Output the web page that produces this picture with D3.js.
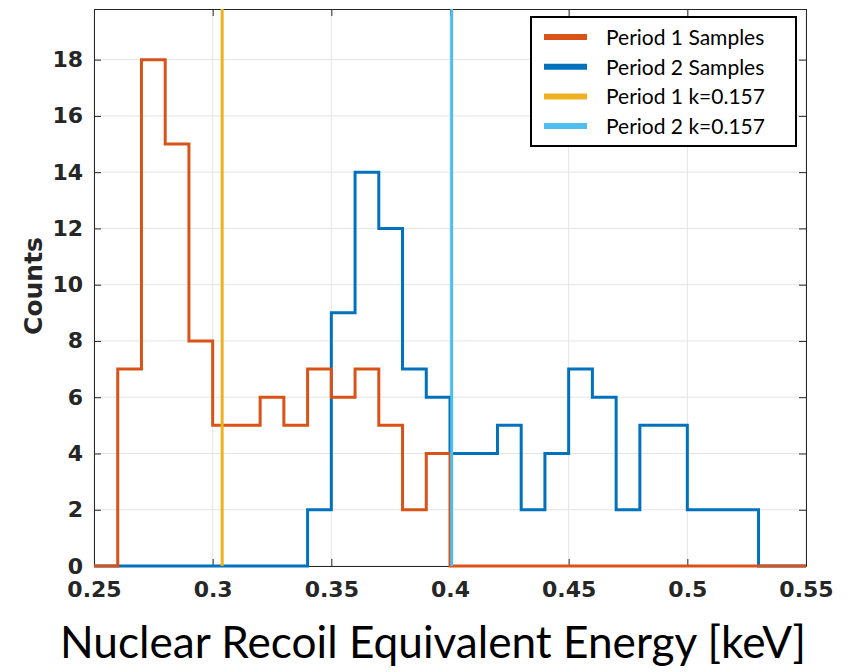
<!DOCTYPE html>
<html>
<head>
<meta charset="utf-8">
<script src="https://cdn.jsdelivr.net/npm/d3@7"></script>
<style>
  body { margin: 0; background: #fff; }
  svg { display: block; }
</style>
</head>
<body>
<div id="chart"></div>
<script>
// bin edges 0.25 .. 0.55, width 0.01
const binStart = 0.25;
const binWidth = 0.01;
const period1Counts = [0, 7, 18, 15, 8, 5, 5, 6, 5, 7, 6, 7, 5, 2, 4, 0, 0, 0, 0, 0, 0, 0, 0, 0, 0, 0, 0, 0, 0, 0];
const period2Counts = [0, 0, 0, 0, 0, 0, 0, 0, 0, 2, 9, 14, 12, 7, 6, 4, 4, 5, 2, 4, 7, 6, 2, 5, 5, 2, 2, 2, 0, 0];
const kLines = [
    {label: 'Period 1 k=0.157', value: 0.304, color: '#EDB120'},
    {label: 'Period 2 k=0.157', value: 0.4007, color: '#4DBEEE'}
];
const seriesNames = ['Period 1 Samples', 'Period 2 Samples'];
const seriesColors = ['#D95319', '#0072BD'];
const xTicks = [0.25, 0.3, 0.35, 0.4, 0.45, 0.5, 0.55];
const yTicks = [0, 2, 4, 6, 8, 10, 12, 14, 16, 18];

const W = 848, H = 672;
const margin = {top: 9, right: 42, bottom: 106, left: 94};
const width = W - margin.left - margin.right;
const height = H - margin.top - margin.bottom;

const svg = d3.select('#chart').append('svg')
    .attr('width', W)
    .attr('height', H);

const x = d3.scaleLinear().domain([0.25, 0.55]).range([margin.left, margin.left + width]);
const y = d3.scaleLinear().domain([0, 19.8]).range([margin.top + height, margin.top]);

// grid
svg.append('g')
    .selectAll('line.gx')
    .data(xTicks)
    .enter().append('line')
    .attr('x1', d => x(d)).attr('x2', d => x(d))
    .attr('y1', y.range()[0]).attr('y2', y.range()[1])
    .attr('stroke', '#e4e4e4').attr('stroke-width', 1);
svg.append('g')
    .selectAll('line.gy')
    .data(yTicks)
    .enter().append('line')
    .attr('x1', x.range()[0]).attr('x2', x.range()[1])
    .attr('y1', d => y(d)).attr('y2', d => y(d))
    .attr('stroke', '#e4e4e4').attr('stroke-width', 1);

// axes with inward ticks on all four sides
const tickFont = g => g.selectAll('text')
    .style('font-family', '"DejaVu Sans", sans-serif')
    .style('font-weight', 'bold')
    .style('font-size', '22px')
    .attr('fill', '#262626');
const axisColor = g => {
    g.selectAll('path, line').attr('stroke', '#262626');
};

svg.append('g')
    .attr('transform', `translate(0,${margin.top + height})`)
    .call(d3.axisBottom(x).tickValues(xTicks).tickSize(-7).tickSizeOuter(0).tickPadding(15)
        .tickFormat(d => String(+d.toFixed(2))))
    .call(axisColor).call(tickFont);
svg.append('g')
    .attr('transform', `translate(0,${margin.top})`)
    .call(d3.axisTop(x).tickValues(xTicks).tickSize(-7).tickSizeOuter(0).tickFormat(''))
    .call(axisColor);
svg.append('g')
    .attr('transform', `translate(${margin.left},0)`)
    .call(d3.axisLeft(y).tickValues(yTicks).tickSize(-7).tickSizeOuter(0).tickPadding(11))
    .call(axisColor).call(tickFont);
svg.append('g')
    .attr('transform', `translate(${margin.left + width},0)`)
    .call(d3.axisRight(y).tickValues(yTicks).tickSize(-7).tickSizeOuter(0).tickFormat(''))
    .call(axisColor);

// histograms as stairs
const stairs = counts => {
    const pts = counts.map((c, i) => [binStart + i * binWidth, c]);
    pts.push([binStart + counts.length * binWidth, counts[counts.length - 1]]);
    return d3.line()
        .x(d => x(d[0]))
        .y(d => y(d[1]))
        .curve(d3.curveStepAfter)(pts);
};

const hists = [period2Counts, period1Counts];
const histColors = [seriesColors[1], seriesColors[0]];
svg.append('g')
    .selectAll('path')
    .data(hists)
    .enter().append('path')
    .attr('d', d => stairs(d))
    .attr('fill', 'none')
    .attr('stroke', (d, i) => histColors[i])
    .attr('stroke-width', 3)
    .attr('stroke-linejoin', 'miter');

// vertical k lines
svg.append('g')
    .selectAll('line')
    .data(kLines)
    .enter().append('line')
    .attr('x1', d => x(d.value)).attr('x2', d => x(d.value))
    .attr('y1', y.range()[0]).attr('y2', y.range()[1])
    .attr('stroke', d => d.color)
    .attr('stroke-width', 3);

// legend
const legendItems = [
    {label: seriesNames[0], color: seriesColors[0]},
    {label: seriesNames[1], color: seriesColors[1]},
    ...kLines
];
const legend = svg.append('g').attr('transform', 'translate(531,17)');
legend.append('rect')
    .attr('width', 265).attr('height', 129)
    .attr('fill', '#fff')
    .attr('stroke', '#000').attr('stroke-width', 2);
const rows = legend.selectAll('g.row')
    .data(legendItems)
    .enter().append('g')
    .attr('transform', (d, i) => `translate(0,${20 + i * 29.7})`);
rows.append('line')
    .attr('x1', 13).attr('x2', 56)
    .attr('stroke', d => d.color).attr('stroke-width', 6);
rows.append('text')
    .attr('x', 75).attr('y', 8)
    .style('font-family', 'Lato, sans-serif')
    .style('font-size', '21px')
    .attr('fill', '#000')
    .text(d => d.label);

// axis titles
svg.append('text')
    .attr('transform', 'translate(42,286) rotate(-90)')
    .attr('text-anchor', 'middle')
    .style('font-family', '"DejaVu Sans", sans-serif')
    .style('font-weight', 'bold')
    .style('font-size', '25px')
    .attr('fill', '#262626')
    .text('Counts');

svg.append('text')
    .attr('x', 60).attr('y', 658)
    .attr('textLength', 746)
    .attr('lengthAdjust', 'spacingAndGlyphs')
    .style('font-family', 'Lato, sans-serif')
    .style('font-size', '45px')
    .attr('fill', '#000')
    .text('Nuclear Recoil Equivalent Energy [keV]');
</script>
</body>
</html>
